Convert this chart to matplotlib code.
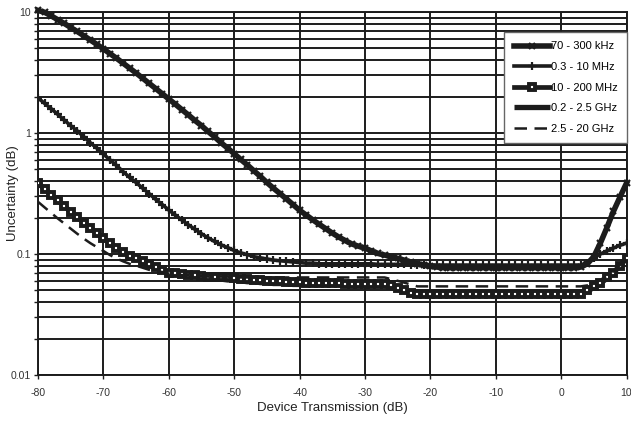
import numpy as np
import matplotlib
matplotlib.use("Agg")
from matplotlib import pyplot as plt
from matplotlib.ticker import LogLocator, FixedLocator, NullFormatter

plt.rcParams['font.family'] = ['Liberation Sans', 'DejaVu Sans']

# Device transmission (dB), 1 dB steps
transmission = np.arange(-80, 11, 1)

khz_70_300 = [10.3, 9.95, 9.30, 8.65, 8.05, 7.45, 6.90, 6.37, 5.87, 5.40,
              4.96, 4.53, 4.15, 3.78, 3.44, 3.13, 2.84, 2.57, 2.33, 2.11,
              1.91, 1.73, 1.56, 1.41, 1.27, 1.15, 1.03, 0.93, 0.83, 0.75,
              0.675, 0.605, 0.545, 0.488, 0.438, 0.390, 0.350, 0.316, 0.285, 0.256,
              0.230, 0.210, 0.192, 0.176, 0.162, 0.149, 0.138, 0.129, 0.121, 0.116,
              0.112, 0.106, 0.101, 0.098, 0.095, 0.092, 0.089, 0.086, 0.083, 0.081,
              0.079, 0.078, 0.077, 0.077, 0.077, 0.077, 0.077, 0.077, 0.077, 0.077,
              0.077, 0.077, 0.077, 0.077, 0.077, 0.077, 0.077, 0.077, 0.077, 0.077,
              0.077, 0.077, 0.077, 0.078, 0.083, 0.095, 0.123, 0.165, 0.225, 0.295,
              0.385]

mhz_03_10 = [1.95, 1.76, 1.59, 1.43, 1.28, 1.15, 1.04, 0.93, 0.83, 0.75,
             0.67, 0.60, 0.54, 0.48, 0.43, 0.39, 0.35, 0.315, 0.283, 0.256,
             0.231, 0.210, 0.191, 0.174, 0.160, 0.147, 0.136, 0.127, 0.119, 0.113,
             0.107, 0.102, 0.099, 0.095, 0.093, 0.091, 0.089, 0.088, 0.087, 0.086,
             0.085, 0.084, 0.084, 0.083, 0.083, 0.083, 0.083, 0.083, 0.083, 0.083,
             0.083, 0.083, 0.082, 0.082, 0.082, 0.082, 0.082, 0.081, 0.081, 0.081,
             0.081, 0.081, 0.081, 0.081, 0.081, 0.081, 0.081, 0.081, 0.081, 0.081,
             0.081, 0.081, 0.081, 0.081, 0.081, 0.081, 0.081, 0.081, 0.081, 0.081,
             0.081, 0.081, 0.081, 0.081, 0.085, 0.093, 0.100, 0.106, 0.112, 0.118,
             0.123]

mhz_10_200 = [0.386, 0.345, 0.310, 0.278, 0.249, 0.224, 0.201, 0.182, 0.164, 0.149,
              0.135, 0.123, 0.113, 0.104, 0.097, 0.092, 0.087, 0.082, 0.078, 0.074,
              0.070, 0.069, 0.068, 0.067, 0.067, 0.066, 0.065, 0.065, 0.064, 0.064,
              0.063, 0.062, 0.062, 0.061, 0.061, 0.060, 0.060, 0.060, 0.059, 0.059,
              0.059, 0.058, 0.058, 0.058, 0.058, 0.058, 0.058, 0.057, 0.057, 0.057,
              0.057, 0.057, 0.057, 0.057, 0.055, 0.052, 0.050, 0.048, 0.047, 0.047,
              0.047, 0.047, 0.047, 0.047, 0.047, 0.047, 0.047, 0.047, 0.047, 0.047,
              0.047, 0.047, 0.047, 0.047, 0.047, 0.047, 0.047, 0.047, 0.047, 0.047,
              0.047, 0.047, 0.047, 0.047, 0.050, 0.054, 0.058, 0.064, 0.070, 0.080,
              0.093]

ghz_02_25 = [0.386, 0.345, 0.310, 0.278, 0.249, 0.224, 0.201, 0.182, 0.164, 0.149,
             0.135, 0.123, 0.113, 0.104, 0.097, 0.092, 0.087, 0.082, 0.078, 0.074,
             0.070, 0.069, 0.068, 0.067, 0.066, 0.065, 0.064, 0.063, 0.062, 0.061,
             0.061, 0.060, 0.059, 0.059, 0.058, 0.058, 0.057, 0.057, 0.057, 0.056,
             0.056, 0.056, 0.056, 0.056, 0.056, 0.056, 0.056, 0.056, 0.056, 0.056,
             0.056, 0.056, 0.056, 0.055, 0.053, 0.051, 0.049, 0.048, 0.047, 0.047,
             0.047, 0.047, 0.047, 0.047, 0.047, 0.047, 0.047, 0.047, 0.047, 0.047,
             0.047, 0.047, 0.047, 0.047, 0.047, 0.047, 0.047, 0.047, 0.047, 0.047,
             0.047, 0.047, 0.047, 0.047, 0.049, 0.053, 0.057, 0.063, 0.070, 0.080,
             0.092]

ghz_25_20 = [0.270, 0.243, 0.219, 0.197, 0.179, 0.162, 0.147, 0.134, 0.123, 0.114,
             0.106, 0.098, 0.092, 0.087, 0.083, 0.080, 0.077, 0.074, 0.072, 0.071,
             0.069, 0.068, 0.067, 0.067, 0.066, 0.066, 0.065, 0.065, 0.065, 0.065,
             0.064, 0.064, 0.064, 0.064, 0.064, 0.064, 0.064, 0.064, 0.064, 0.064,
             0.064, 0.064, 0.064, 0.064, 0.064, 0.064, 0.064, 0.064, 0.064, 0.064,
             0.064, 0.064, 0.064, 0.064, 0.062, 0.060, 0.058, 0.056, 0.054, 0.054,
             0.054, 0.054, 0.054, 0.054, 0.054, 0.054, 0.054, 0.054, 0.054, 0.054,
             0.054, 0.054, 0.054, 0.054, 0.054, 0.054, 0.054, 0.054, 0.054, 0.054,
             0.054, 0.054, 0.054, 0.054, 0.055, 0.058, 0.061, 0.066, 0.072, 0.081,
             0.092]

x_ticks = [-80, -70, -60, -50, -40, -30, -20, -10, 0, 10]
y_ticks = [0.01, 0.1, 1, 10]
y_tick_labels = ["0.01", "0.1", "1", "10"]

ink = "#1c1c1c"

fig = plt.figure(figsize=(6.31, 4.24), dpi=100)
ax = fig.add_axes([38 / 631, 1 - 375 / 424, 588.5 / 631, 363 / 424])

ax.plot(transmission, ghz_02_25, color=ink, lw=3.8, solid_capstyle='butt',
        label="0.2 - 2.5 GHz", zorder=3)
ax.plot(transmission, khz_70_300, color=ink, lw=4.0, marker='x', ms=5,
        mew=1.6, label="70 - 300 kHz", zorder=4, clip_on=False)
ax.plot(transmission, mhz_03_10, color=ink, lw=2.6, marker='+', ms=6,
        mew=1.6, label="0.3 - 10 MHz", zorder=4)
ax.plot(transmission, mhz_10_200, color=ink, lw=3.4, marker='s', ms=4.6,
        mfc='white', mec=ink, mew=2.8, label="10 - 200 MHz", zorder=5)
ax.plot(transmission, ghz_25_20, color=ink, lw=1.8, dashes=(5, 3),
        label="2.5 - 20 GHz", zorder=6)

ax.set_yscale('log')
ax.set_xlim(-80, 10)
ax.set_ylim(0.01, 10)

ax.xaxis.set_major_locator(FixedLocator(x_ticks))
ax.set_xticklabels([str(v) for v in x_ticks])
ax.yaxis.set_major_locator(FixedLocator(y_ticks))
ax.set_yticklabels(y_tick_labels)
ax.yaxis.set_minor_locator(LogLocator(base=10, subs=np.arange(2, 10)))
ax.yaxis.set_minor_formatter(NullFormatter())

ax.grid(True, which='both', axis='y', color=ink, lw=1.4)
ax.grid(True, which='major', axis='x', color=ink, lw=1.4)
ax.set_axisbelow(True)

for s in ax.spines.values():
    s.set_color(ink)
    s.set_linewidth(1.4)

ax.tick_params(axis='both', which='both', direction='out', length=3,
               width=1, color=ink, labelsize=7.5, labelcolor='#333333', pad=2)
ax.tick_params(axis='x', pad=6)

ax.set_xlabel("Device Transmission (dB)", fontsize=9.5, color='#222222',
              labelpad=3)
ax.set_ylabel("Uncertainty (dB)", fontsize=9.5, color='#222222')
ax.yaxis.set_label_coords(-19 / 588.5, 0.5)

handles, labels = ax.get_legend_handles_labels()
order = ["70 - 300 kHz", "0.3 - 10 MHz", "10 - 200 MHz", "0.2 - 2.5 GHz",
         "2.5 - 20 GHz"]
hl = dict(zip(labels, handles))
leg = ax.legend([hl[k] for k in order], order, loc='upper right',
                bbox_to_anchor=(627 / 631, 1 - 32 / 424),
                bbox_transform=fig.transFigure, borderaxespad=0,
                fontsize=8, numpoints=1, handlelength=3.3,
                handletextpad=0.05, labelspacing=0.95, borderpad=0.85,
                frameon=True, fancybox=False, framealpha=1)
leg.get_frame().set_edgecolor('#666666')
leg.get_frame().set_linewidth(1.0)

fig.savefig("out.png", dpi=100)
